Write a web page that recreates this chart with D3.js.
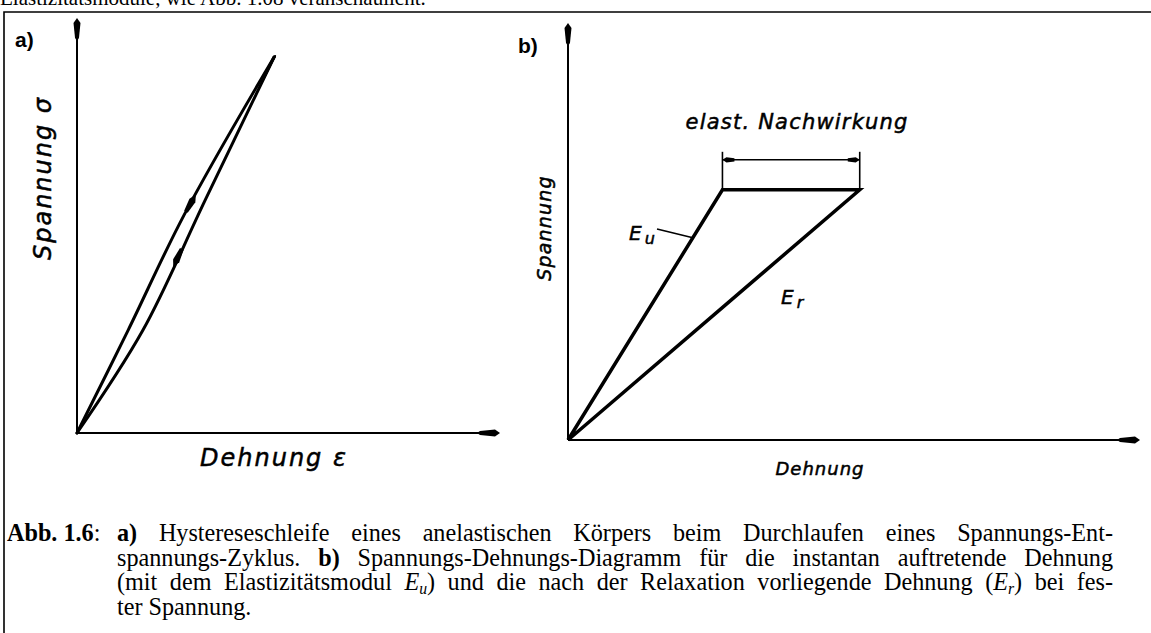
<!DOCTYPE html>
<html><head><meta charset="utf-8">
<script src="https://cdn.jsdelivr.net/npm/d3@7"></script>
<style>body{margin:0;background:#fff}svg{display:block}</style>
</head><body>
<svg id="fig" width="1151" height="633"></svg>
<script>
// ---- data -------------------------------------------------------------
// Panel a: hysteresis loop, [strain, stress] in relative units (0..100)
const loadBranch   = [[0,0],[12.1,24.8],[25.3,52.5],[46.6,90.6]];
const unloadBranch = [[46.6,90.6],[30.3,56.1],[15.6,24.8],[0,0]];
// direction arrows on the loop: stress level at each arrow tip
const loadArrowStress = 57.5;
const unloadArrowStress = 40;

// Panel b: stress held constant, instantaneous vs relaxed strain
const holdStress    = 60;
const strainInstant = 27;   // E_u
const strainRelaxed = 51;   // E_r

// Texts
const topLine = "Elastizitätsmodule, wie Abb. 1.08 veranschaulicht.";
const captionLabel = "Abb. 1.6";
const captionLines = [
  "*a)* Hystereseschleife eines anelastischen Körpers beim Durchlaufen eines Spannungs-Ent-",
  "spannungs-Zyklus. *b)* Spannungs-Dehnungs-Diagramm für die instantan auftretende Dehnung",
  "(mit dem Elastizitätsmodul ~E|u~) und die nach der Relaxation vorliegende Dehnung (~E|r~) bei fes-",
  "ter Spannung."
];

// ---- setup ------------------------------------------------------------
const svg = d3.select("#fig");
const INK = "#000";
const LETTER = "'DejaVu Sans', sans-serif";
const SERIF = "'Liberation Serif', 'Times New Roman', serif";
const BODY = 24.2;

svg.append("rect").attr("width",1151).attr("height",633).attr("fill","#fff");

// running text above the figure box
svg.append("text").attr("x",0).attr("y",5)
  .attr("font-family",SERIF).attr("font-size",21).attr("fill",INK).text(topLine);

// figure box (open to the right and bottom)
svg.append("path").attr("d","M1151,12H4V633")
  .attr("fill","none").attr("stroke",INK).attr("stroke-width",1.6);

// long, slim filled arrow head; tip at (x,y), pointing along angle (deg)
function axisHead(g, x, y, angle, len=22, wid=7){
  g.append("path")
    .attr("d",`M0,0 L${-len*0.25},${-wid/2} L${-len},${-wid*0.28} L${-len-3},0 L${-len},${wid*0.28} L${-len*0.25},${wid/2} Z`)
    .attr("transform",`translate(${x},${y}) rotate(${angle})`)
    .attr("fill",INK);
}
// hand-lettered look: oblique sans with a slight outline
function letter(sel, size, spacing){
  return sel.attr("font-family",LETTER).attr("font-style","italic").attr("font-size",size)
    .attr("letter-spacing",spacing).attr("fill",INK)
    .attr("stroke",INK).attr("stroke-width",0.5);
}

// ---- panel a ----------------------------------------------------------
const ga = svg.append("g");
const xa = d3.scaleLinear().domain([0,100]).range([77,500]);
const ya = d3.scaleLinear().domain([0,100]).range([433,18]);

ga.append("line").attr("x1",xa(0)).attr("y1",ya(0)).attr("x2",xa(100)-10).attr("y2",ya(0))
  .attr("stroke",INK).attr("stroke-width",2);
ga.append("line").attr("x1",xa(0)).attr("y1",ya(0)).attr("x2",xa(0)).attr("y2",ya(100)+10)
  .attr("stroke",INK).attr("stroke-width",2);
axisHead(ga, xa(100), ya(0), 0, 20, 7);
axisHead(ga, xa(0), ya(100), -90, 20, 7);

const loopLine = d3.line().x(d=>xa(d[0])).y(d=>ya(d[1])).curve(d3.curveCatmullRom.alpha(0.5));
[loadBranch, unloadBranch].forEach(b=>{
  ga.append("path").attr("d",loopLine(b)).attr("fill","none")
    .attr("stroke",INK).attr("stroke-width",3).attr("stroke-linecap","round");
});

// point on a branch at a given stress, with local direction of travel
function onBranch(branch, s){
  for(let i=0;i<branch.length-1;i++){
    const a=branch[i], b=branch[i+1];
    const lo=Math.min(a[1],b[1]), hi=Math.max(a[1],b[1]);
    if(s>=lo && s<=hi){
      const t=(s-a[1])/(b[1]-a[1]);
      const e=a[0]+t*(b[0]-a[0]);
      const ang=Math.atan2(ya(b[1])-ya(a[1]), xa(b[0])-xa(a[0]))*180/Math.PI;
      return {x:xa(e), y:ya(s), ang};
    }
  }
}
function loopHead(p){
  ga.append("path").attr("d","M0,0 L-7,-3.4 L-20,-2 L-20,2 L-7,3.4 Z")
    .attr("transform",`translate(${p.x},${p.y}) rotate(${p.ang})`).attr("fill",INK);
}
loopHead(onBranch(loadBranch, loadArrowStress));
loopHead(onBranch(unloadBranch, unloadArrowStress));

// reversal point: both branches merge into a dark wedge
const peak = loadBranch[loadBranch.length-1];
const wl = onBranch(loadBranch, 85), wr = onBranch(unloadBranch, 85);
ga.append("path").attr("d",`M${xa(peak[0])+1},${ya(peak[1])-1} L${wl.x},${wl.y} L${wr.x},${wr.y} Z`)
  .attr("fill",INK).attr("stroke",INK).attr("stroke-width",2).attr("stroke-linejoin","round");

ga.append("text").attr("x",15).attr("y",47).attr("font-family","'Liberation Sans', Arial, sans-serif")
  .attr("font-weight","bold").attr("font-size",21).attr("fill",INK).text("a)");
letter(ga.append("text").attr("transform","translate(51,178) rotate(-90)").attr("text-anchor","middle"), 24, 2)
  .text("Spannung  σ");
letter(ga.append("text").attr("x",200).attr("y",466), 24, 2).text("Dehnung  ε");

// ---- panel b ----------------------------------------------------------
const gb = svg.append("g");
const xb = d3.scaleLinear().domain([0,100]).range([568,1140]);
const yb = d3.scaleLinear().domain([0,100]).range([440,23]);

gb.append("line").attr("x1",xb(0)).attr("y1",yb(0)).attr("x2",xb(100)-10).attr("y2",yb(0))
  .attr("stroke",INK).attr("stroke-width",2);
gb.append("line").attr("x1",xb(0)).attr("y1",yb(0)).attr("x2",xb(0)).attr("y2",yb(100)+10)
  .attr("stroke",INK).attr("stroke-width",2);
axisHead(gb, xb(100), yb(0), 0, 20, 7);
axisHead(gb, xb(0), yb(100), -90, 20, 7);

const pathB = d3.line().x(d=>xb(d[0])).y(d=>yb(d[1]));
gb.append("path")
  .attr("d",pathB([[0,0],[strainInstant,holdStress],[strainRelaxed,holdStress],[0,0]]))
  .attr("fill","none").attr("stroke",INK).attr("stroke-width",3.5).attr("stroke-linejoin","miter");

// dimension for the elastic after-effect
const xU = xb(strainInstant), xR = xb(strainRelaxed), yH = yb(holdStress);
[xU,xR].forEach(x=>gb.append("line").attr("x1",x).attr("x2",x).attr("y1",yH).attr("y2",yH-38)
  .attr("stroke",INK).attr("stroke-width",1.6));
gb.append("line").attr("x1",xU).attr("x2",xR).attr("y1",yH-30).attr("y2",yH-30)
  .attr("stroke",INK).attr("stroke-width",1.5);
[[xU,180],[xR,0]].forEach(([x,a])=>{
  gb.append("path").attr("d","M0,0 L-4,-2.6 L-12,-1.6 L-12,1.6 L-4,2.6 Z")
    .attr("transform",`translate(${x},${yH-30}) rotate(${a})`).attr("fill",INK);
});
letter(gb.append("text").attr("x",(xU+xR)/2+6).attr("y",yH-61).attr("text-anchor","middle"), 21, 1.2)
  .text("elast. Nachwirkung");

gb.append("text").attr("x",518).attr("y",53).attr("font-family","'Liberation Sans', Arial, sans-serif")
  .attr("font-weight","bold").attr("font-size",21).attr("fill",INK).text("b)");
letter(gb.append("text").attr("transform","translate(551,228) rotate(-90)").attr("text-anchor","middle"), 19, 1.2)
  .text("Spannung");
letter(gb.append("text").attr("x",820).attr("y",475).attr("text-anchor","middle"), 18, 1)
  .text("Dehnung");

// modulus labels
function modLabel(x, y, sub){
  const t = letter(gb.append("text").attr("x",x).attr("y",y), 20, 0);
  t.append("tspan").text("E");
  t.append("tspan").attr("dx",3).attr("dy",4).attr("font-size",16).text(sub);
}
modLabel(629, 240, "u");
// leader from E_u to the instantaneous line
const leadS = 48.5;
gb.append("line").attr("x1",657).attr("y1",229)
  .attr("x2",xb(strainInstant*leadS/holdStress)).attr("y2",yb(leadS))
  .attr("stroke",INK).attr("stroke-width",1.6);
modLabel(781, 304, "r");

// ---- caption ----------------------------------------------------------
const gc = svg.append("g").attr("font-family",SERIF).attr("font-size",BODY).attr("fill",INK);
const capX0 = 117, capX1 = 1113, capY0 = 541, capDY = 24.6;

const lab = gc.append("text").attr("x",7).attr("y",capY0);
lab.append("tspan").attr("font-weight","bold").text(captionLabel);
lab.append("tspan").text(":");

function parseWord(w){
  const runs=[];
  w.split(/(\*[^*]+\*|~[^~]+~)/).filter(s=>s.length).forEach(s=>{
    if(s[0]==="*") runs.push({t:s.slice(1,-1), bold:true});
    else if(s[0]==="~"){ const [a,b]=s.slice(1,-1).split("|"); runs.push({t:a,italic:true}); runs.push({t:b,italic:true,sub:true}); }
    else runs.push({t:s});
  });
  return runs;
}
captionLines.forEach((line,li)=>{
  const y = capY0 + li*capDY;
  const words = line.split(" ").map(parseWord);
  const nodes = words.map(runs=>{
    const t = gc.append("text").attr("x",0).attr("y",y);
    let shifted=false;
    runs.forEach(r=>{
      const ts=t.append("tspan").text(r.t);
      if(r.bold) ts.attr("font-weight","bold");
      if(r.italic) ts.attr("font-style","italic");
      if(r.sub){ ts.attr("font-size",BODY*0.65).attr("dy",4); shifted=true; }
      else if(shifted){ ts.attr("dy",-4); shifted=false; }
    });
    return t;
  });
  const widths = nodes.map(n=>n.node().getComputedTextLength());
  const total = d3.sum(widths);
  const last = li===captionLines.length-1;
  const gap = last ? BODY*0.25 : (capX1-capX0-total)/(nodes.length-1);
  let x = capX0;
  nodes.forEach((n,i)=>{ n.attr("x",x); x += widths[i]+gap; });
});
</script>
</body></html>
